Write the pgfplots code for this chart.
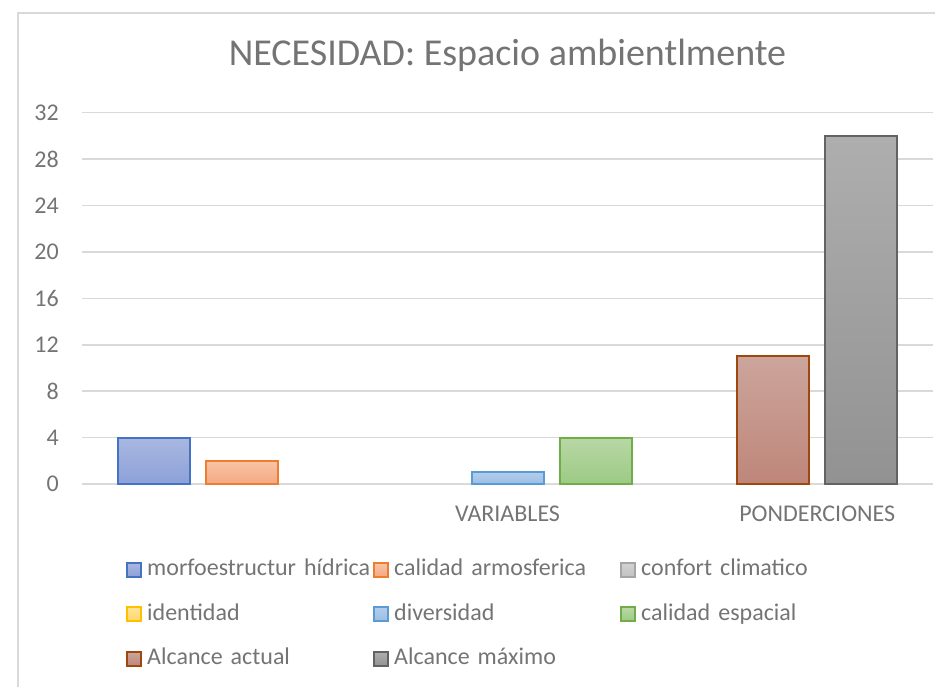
\documentclass[border=0pt]{standalone}
\usepackage{pgfplots}
\pgfplotsset{compat=1.18}
\usepackage{fontspec}
\setmainfont{Carlito}
\definecolor{txt}{HTML}{747474}
\definecolor{gridc}{HTML}{D9D9D9}
\definecolor{b1d}{HTML}{4472C4}\definecolor{b1t}{HTML}{A9B8E1}\definecolor{b1b}{HTML}{8DA1D8}
\definecolor{b2d}{HTML}{ED7D31}\definecolor{b2t}{HTML}{F8C4A6}\definecolor{b2b}{HTML}{F4A882}
\definecolor{b3d}{HTML}{A5A5A5}\definecolor{b3t}{HTML}{D2D2D2}\definecolor{b3b}{HTML}{C2C2C2}
\definecolor{b4d}{HTML}{FFC000}\definecolor{b4t}{HTML}{FFE399}\definecolor{b4b}{HTML}{FFD666}
\definecolor{b5d}{HTML}{5B9BD5}\definecolor{b5t}{HTML}{B2CDEB}\definecolor{b5b}{HTML}{9BBEE5}
\definecolor{b6d}{HTML}{70AD47}\definecolor{b6t}{HTML}{B8D7A5}\definecolor{b6b}{HTML}{9DCA85}
\definecolor{b7d}{HTML}{9E480E}\definecolor{b7t}{HTML}{CCA59C}\definecolor{b7b}{HTML}{BF867A}
\definecolor{b8d}{HTML}{636363}\definecolor{b8t}{HTML}{AEAEAE}\definecolor{b8b}{HTML}{929292}
\pgfplotsset{
  mybar/.style={ybar, bar width=0.8136, bar shift=0pt, line width=2pt,
    legend image code/.code={\draw[##1, line width=2pt] (0pt,-6.5pt) rectangle (14pt,7.5pt);}},
}
\begin{document}
\begin{tikzpicture}[x=1pt,y=1pt]
\useasboundingbox (0,0) rectangle (935,686);
\clip (0,0) rectangle (935,686);
\draw[color=gridc, line width=1.5pt] (18,-5) -- (18,673) -- (945,673);
\begin{axis}[
  at={(82pt,202pt)}, anchor=south west,
  scale only axis, width=851pt, height=371.3pt,
  xmin=-0.808, xmax=8.808, ymin=0, ymax=32,
  ytick={0,4,...,32},
  xtick={4,7.5}, xticklabels={VARIABLES, PONDERCIONES},
  axis line style={draw=none}, tick style={draw=none},
  ymajorgrids, grid style={draw=gridc, line width=1.5pt},
  /pgf/number format/assume math mode=true,
  tick label style={font=\fontsize{24}{28}\selectfont, text=txt},
  yticklabel style={inner sep=0pt, xshift=-23pt},
  xticklabel style={inner sep=0pt, yshift=-22pt},
  title={NECESIDAD: Espacio ambientlmente},
  title style={font=\fontsize{38}{44}\selectfont, text=txt, anchor=base, at={(0.5,1)}, yshift=40.7pt},
  legend columns=3,
  legend style={draw=none, fill=none, inner sep=0pt, at={(0.0517,-0.204)}, anchor=north west,
    font=\fontsize{24}{28}\selectfont, text=txt, cells={anchor=west},
    nodes={text width=226pt, align=left, inner sep=0pt, text height=16pt, text depth=5pt},
    row sep=23.5pt,
    /tikz/every odd column/.append style={column sep=5pt}},
]
\addplot[mybar, draw=b1d, top color=b1t, bottom color=b1b] coordinates {(0,4)};
\addlegendentry{morfoestructur hídrica}
\addplot[mybar, draw=b2d, top color=b2t, bottom color=b2b] coordinates {(1,2)};
\addlegendentry{calidad armosferica}
\addlegendimage{mybar, draw=b3d, top color=b3t, bottom color=b3b}
\addlegendentry{confort climatico}
\addlegendimage{mybar, draw=b4d, top color=b4t, bottom color=b4b}
\addlegendentry{identidad}
\addplot[mybar, draw=b5d, top color=b5t, bottom color=b5b] coordinates {(4,1)};
\addlegendentry{diversidad}
\addplot[mybar, draw=b6d, top color=b6t, bottom color=b6b] coordinates {(5,4)};
\addlegendentry{calidad espacial}
\addplot[mybar, draw=b7d, top color=b7t, bottom color=b7b] coordinates {(7,11)};
\addlegendentry{Alcance actual}
\addplot[mybar, draw=b8d, top color=b8t, bottom color=b8b] coordinates {(8,30)};
\addlegendentry{Alcance máximo}
\end{axis}
\end{tikzpicture}
\end{document}
